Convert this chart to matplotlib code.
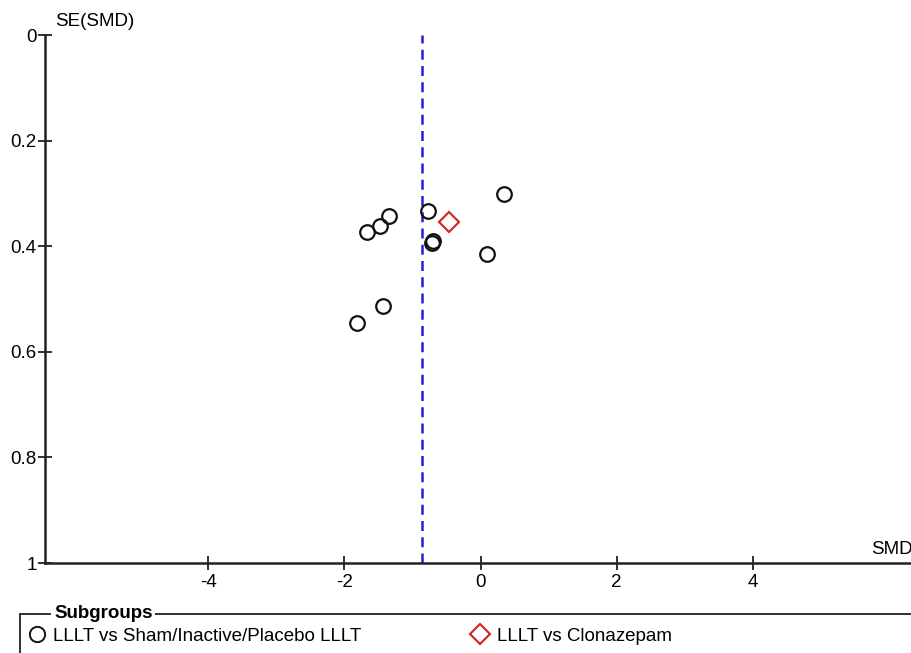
import matplotlib
matplotlib.use("Agg")
from matplotlib import pyplot as plt
from matplotlib.lines import Line2D
from matplotlib.patches import Rectangle

plt.rcParams['font.family'] = ['Liberation Sans', 'DejaVu Sans']

# study effects (SMD) and their standard errors
sham_smd = [0.35, -0.77, -1.34, -1.48, -1.67, -0.72, -0.70, 0.10, -1.44, -1.81]
sham_se = [0.302, 0.334, 0.342, 0.361, 0.373, 0.393, 0.390, 0.415, 0.513, 0.546]
clon_smd = [-0.47]
clon_se = [0.354]
pooled_smd = -0.86

x_ticks = [-4, -2, 0, 2, 4]
y_ticks = [0, 0.2, 0.4, 0.6, 0.8, 1]
y_tick_labels = ["0", "0.2", "0.4", "0.6", "0.8", "1"]

FS = 13.5
W, H = 912, 653
fig = plt.figure(figsize=(W / 100, H / 100), dpi=100)
ax = fig.add_axes([45 / W, (H - 563) / H, (916 - 45) / W, 528 / H])

ax.axvline(pooled_smd, color='#2020d8', lw=1.8, ls=(0, (4, 2.5)), zorder=1)
ax.plot(sham_smd, sham_se, 'o', ms=10.5, mfc='none', mec='#111111', mew=1.6,
        clip_on=False, zorder=3)
ax.plot(clon_smd, clon_se, 'D', ms=10, mfc='none', mec='#d42020', mew=1.5,
        clip_on=False, zorder=3)

ax.set_xlim(-6.4, 6.4)
ax.set_ylim(1, 0)
ax.set_xticks(x_ticks)
ax.set_xticklabels([str(t) for t in x_ticks])
ax.set_yticks(y_ticks)
ax.set_yticklabels(y_tick_labels)
ax.tick_params(direction='inout', length=10, width=1.3, labelsize=FS,
               color='#222222', pad=1)
ax.tick_params(axis='x', pad=3)
for side in ('top', 'right'):
    ax.spines[side].set_visible(False)
for side in ('left', 'bottom'):
    ax.spines[side].set_linewidth(1.8)
    ax.spines[side].set_color('#222222')

fig.text(55 / W, 1 - 22 / H, "SE(SMD)", fontsize=FS, va='center', ha='left')
fig.text(913 / W, 1 - 550 / H, "SMD", fontsize=FS, va='center', ha='right')

# subgroup legend box
box = Rectangle((20 / W, -0.1), 1.0, (H - 614) / H + 0.1, transform=fig.transFigure,
                fill=False, ec='#222222', lw=1.3)
fig.patches.append(box)
fig.text(54 / W, 1 - 613 / H, "Subgroups", fontsize=FS, fontweight='bold',
         va='center', ha='left',
         bbox=dict(fc='white', ec='none', pad=2))

handles = [
    Line2D([], [], ls='none', marker='o', ms=11, mfc='none', mec='#111111', mew=1.4),
    Line2D([], [], ls='none', marker='D', ms=10, mfc='none', mec='#d42020', mew=1.5),
]
fig.legend(handles, ["LLLT vs Sham/Inactive/Placebo LLLT", "LLLT vs Clonazepam"],
           ncol=2, loc='center left', bbox_to_anchor=(29 / W, 1 - 636 / H),
           frameon=False, fontsize=FS, handlelength=0.8, handletextpad=0.5,
           columnspacing=5.9, borderpad=0, borderaxespad=0)

fig.savefig("out.png", dpi=100)
